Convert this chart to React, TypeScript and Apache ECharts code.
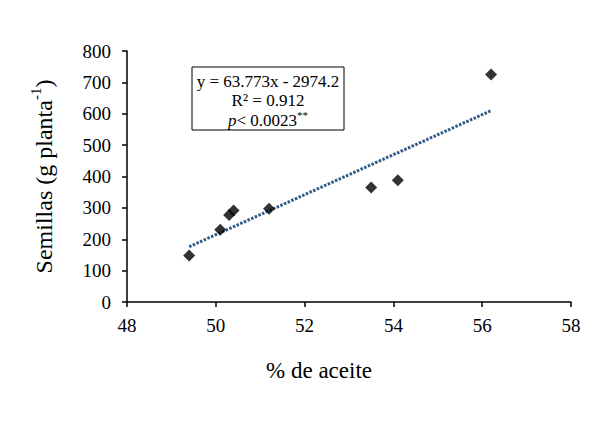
import React, { useEffect, useRef } from "react";
import * as echarts from "echarts";

const oilPercent = [49.4, 50.1, 50.3, 50.4, 51.2, 53.5, 54.1, 56.2];
const seedYield = [148, 230, 277, 292, 297, 365, 388, 725];
const trendCoef = [63.773, -2974.2];
const trendRange = [49.4, 56.2];
const xTicks = [48, 50, 52, 54, 56, 58];
const yTicks = [0, 100, 200, 300, 400, 500, 600, 700, 800];
const annotation = ["y = 63.773x - 2974.2", "R² = 0.912", "0.0023"];

export default function App() {
  const ref = useRef<HTMLDivElement>(null);
  useEffect(() => {
    if (!ref.current) return;
    const chart = echarts.init(ref.current, null, { renderer: "svg" });
    const font = "Liberation Serif";
    const trend = trendRange.map((x) => [x, trendCoef[0] * x + trendCoef[1]]);
    chart.setOption({
      animation: false,
      backgroundColor: "#ffffff",
      textStyle: { fontFamily: font, color: "#000" },
      grid: { left: 127, right: 41, top: 51, bottom: 126 },
      xAxis: {
        type: "value",
        min: xTicks[0],
        max: xTicks[xTicks.length - 1],
        interval: 2,
        name: "% de aceite",
        nameLocation: "middle",
        nameGap: 57,
        nameTextStyle: { fontFamily: font, fontSize: 23, color: "#000", padding: [0, 60, 0, 0] },
        axisLine: { lineStyle: { color: "#000", width: 1.5 } },
        axisTick: { show: true, length: 5, lineStyle: { color: "#000", width: 1.5 } },
        axisLabel: { fontFamily: font, fontSize: 19, color: "#000", margin: 14 },
        splitLine: { show: false },
      },
      yAxis: {
        type: "value",
        min: yTicks[0],
        max: yTicks[yTicks.length - 1],
        interval: 100,
        name: "{n|Semillas (g planta}{s|-1}{n|)}",
        nameLocation: "middle",
        nameGap: 71,
        nameRotate: 90,
        nameTextStyle: {
          fontFamily: font,
          color: "#000",
          rich: {
            n: { fontFamily: font, fontSize: 24, color: "#000", lineHeight: 28, verticalAlign: "bottom" },
            s: { fontFamily: font, fontSize: 15, color: "#000", lineHeight: 28, verticalAlign: "top" },
          },
        },
        axisLine: { show: true, lineStyle: { color: "#000", width: 1.5 } },
        axisTick: { show: true, length: 5, lineStyle: { color: "#000", width: 1.5 } },
        axisLabel: { fontFamily: font, fontSize: 19, color: "#000", margin: 16 },
        splitLine: { show: false },
      },
      series: [
        {
          type: "line",
          data: trend,
          symbol: "none",
          lineStyle: { color: "#2d5a86", width: 3, type: [2.5, 1.5] },
          z: 2,
        },
        {
          type: "scatter",
          data: oilPercent.map((x, i) => [x, seedYield[i]]),
          symbol: "diamond",
          symbolSize: [12, 12],
          itemStyle: { color: "#000" },
          z: 3,
        },
      ],
      graphic: [
        {
          type: "rect",
          shape: { x: 192, y: 67, width: 152, height: 63 },
          style: { fill: "#fff", stroke: "#000", lineWidth: 1 },
          z: 10,
        },
        {
          type: "text",
          x: 268,
          y: 81,
          style: { text: annotation[0], fontFamily: font, fontSize: 17, fill: "#000", align: "center", verticalAlign: "middle" },
          z: 11,
        },
        {
          type: "text",
          x: 268,
          y: 100,
          style: { text: annotation[1], fontFamily: font, fontSize: 17, fill: "#000", align: "center", verticalAlign: "middle" },
          z: 11,
        },
        {
          type: "text",
          x: 268,
          y: 119,
          style: {
            text: "{i|p}{n|< " + annotation[2] + "}{s|**}",
            align: "center",
            verticalAlign: "middle",
            rich: {
              i: { fontFamily: font, fontSize: 17, fontStyle: "italic", fill: "#000", lineHeight: 19, verticalAlign: "bottom" },
              n: { fontFamily: font, fontSize: 17, fill: "#000", lineHeight: 19, verticalAlign: "bottom" },
              s: { fontFamily: font, fontSize: 11, fill: "#000", lineHeight: 19, verticalAlign: "top" },
            },
          },
          z: 11,
        },
      ],
    });
    return () => chart.dispose();
  }, []);
  return <div ref={ref} style={{ width: 612, height: 428, position: "absolute", left: 0, top: 0 }} />;
}
